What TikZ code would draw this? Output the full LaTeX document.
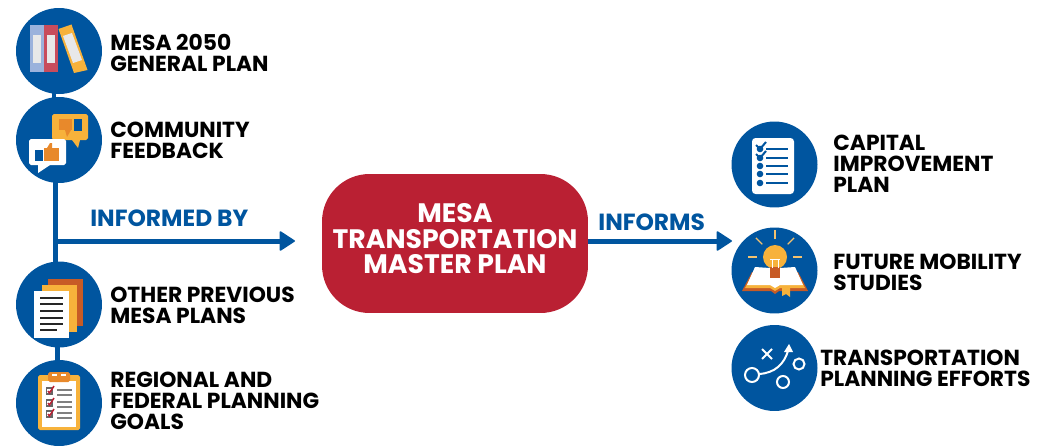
\documentclass[tikz,border=0pt]{standalone}
\usepackage{fontspec}
\setmainfont{Poppins}[BoldFont=Poppins Bold]
\usetikzlibrary{arrows.meta}
\definecolor{mesablue}{HTML}{00559F}
\definecolor{mesared}{HTML}{BA2033}
\definecolor{bookorange}{HTML}{F7B23B}
\definecolor{thumb}{HTML}{E8892B}
\definecolor{rust}{HTML}{C75B26}
\definecolor{paper}{HTML}{E8E8E8}
\tikzset{
  disc/.style={circle,fill=mesablue,minimum size=1.72cm,inner sep=0pt},
  link/.style={mesablue,line width=0.9mm},
  pointer/.style={mesablue,line width=1mm,-{Triangle[round,length=3.2mm,width=4.1mm,line width=0.3mm]}},
  label/.style={anchor=west,align=left,font=\bfseries\fontsize{12.4}{11.95}\selectfont,text=black,inner sep=0pt},
  heading/.style={anchor=west,font=\bfseries\fontsize{13.3}{14}\selectfont,text=mesablue,inner sep=0pt}
}
\begin{document}
\begin{tikzpicture}[x=0.02cm,y=-0.02cm]
  \useasboundingbox (0,0) rectangle (1043,446);
  % left column
  \node[disc] (generalplan) at (59,51) {};
  \node[disc] (feedback) at (59,140) {};
  \node[disc] (previous) at (59,304.5) {};
  \node[disc] (goals) at (59,403) {};
  \draw[link] ([xshift=-0.1cm,yshift=0.05cm]generalplan.south) -- ([xshift=-0.1cm,yshift=-0.05cm]feedback.north);
  \draw[link] ([xshift=-0.07cm,yshift=0.05cm]feedback.south) -- ([xshift=-0.07cm,yshift=-0.05cm]previous.north);
  \draw[link] ([xshift=-0.03cm,yshift=0.05cm]previous.south) -- ([xshift=-0.03cm,yshift=-0.05cm]goals.north);
  % right column
  \node[disc] (capital) at (774.5,164.5) {};
  \node[disc] (mobility) at (774.5,270.5) {};
  \node[disc] (efforts) at (774.5,368) {};
  % centre
  \node[fill=mesared,rounded corners=0.95cm,minimum width=5.32cm,minimum height=2.78cm] (master) at (455,243.5) {};
  \node[align=center,text=white,font=\bfseries\fontsize{15.2}{14.5}\selectfont,inner sep=0pt] (mastertext) at (455,239) {MESA\\TRANSPORTATION\\MASTER PLAN};
  \coordinate (junction) at (55,241);
  \coordinate (leftend) at (295,241);
  \coordinate (rightend) at (732,241);
  \draw[pointer] (junction) -- (leftend);
  \draw[pointer] (master.east |- rightend) -- (rightend);
  \node[heading] (informedby) at (90,218) {INFORMED BY};
  \node[heading] (informs) at (598,222) {INFORMS};
  % texts
  \node[label] (t1) at (110,53) {MESA 2050\\GENERAL PLAN};
  \node[label] (t2) at (110,140.5) {COMMUNITY\\FEEDBACK};
  \node[label] (t3) at (110,305.5) {OTHER PREVIOUS\\MESA PLANS};
  \node[label] (t4) at (110,400.5) {REGIONAL AND\\FEDERAL PLANNING\\GOALS};
  \node[label] (t5) at (833,164) {CAPITAL\\IMPROVEMENT\\PLAN};
  \node[label] (t6) at (833,272) {FUTURE MOBILITY\\STUDIES};
  \node[label] (t7) at (820,368) {TRANSPORTATION\\PLANNING EFFORTS};
  % binders
  \fill[blue!20!paper!60!mesablue!70!white] (30,25) rectangle (44,72);
  \fill[mesared!80!white] (44,25) rectangle (58,72);
  \fill[paper] (33,35) rectangle (41,63);
  \fill[paper] (47,35) rectangle (55,63);
  \fill[bookorange] (58.5,29) -- (71.5,24.5) -- (87.5,70) -- (74,73) -- cycle;
  \fill[paper] (63,36) -- (72,33) -- (82,60) -- (73,63) -- cycle;
  % speech bubbles
  \fill[bookorange,rounded corners=1pt] (52,114) rectangle (88,140);
  \fill[bookorange] (72,140) -- (80,140) -- (78,148) -- cycle;
  \fill[thumb] (59,119) rectangle (72,130);
  \fill[thumb] (65,130) -- (71,130) -- (67,137) -- cycle;
  \fill[mesablue] (74,119) rectangle (82,131);
  \fill[white,rounded corners=1pt] (29,139) rectangle (66,165);
  \fill[white] (38,165) -- (50,165) -- (38,173) -- cycle;
  \fill[mesablue] (35,150) rectangle (43,161);
  \fill[thumb] (44,148) rectangle (59,161);
  \fill[thumb] (47,148) -- (50,143) -- (52,143) -- (52,148) -- cycle;
  % stacked pages
  \fill[rust] (48,279) rectangle (83,326);
  \fill[bookorange] (42,285) rectangle (77,332);
  \fill[white] (34,291) rectangle (69,338);
  \foreach \y in {298,304,311,318,324}
    \draw[black!85,line width=0.3mm] (40,\y) -- (63,\y);
  \draw[black!85,line width=0.3mm] (40,330) -- (57,330);
  % clipboard
  \fill[bookorange,rounded corners=1pt] (38,375) rectangle (80,430);
  \fill[white] (42,381) rectangle (76,427);
  \fill[thumb,rounded corners=1pt] (48,372) rectangle (70,382);
  \fill[white] (52,374) rectangle (57,376);
  \fill[white] (61,374) rectangle (66,376);
  \foreach \y in {391,403,414}{
    \draw[black!60,line width=0.3mm] (46.5,\y-3) rectangle (52,\y+3);
    \draw[mesared,line width=0.3mm] (48,\y) -- (49.5,\y+2) -- (54,\y-5);
    \draw[black!50,line width=0.4mm] (57,\y-1) -- (72,\y-1);
    \draw[black!50,line width=0.4mm] (57,\y+4) -- (72,\y+4);
  }
  % checklist
  \fill[white,rounded corners=2pt] (752,138) rectangle (794,194);
  \foreach \y in {149,158,166,174,183}{
    \fill[mesablue] (760,\y) circle [radius=3.3];
    \draw[mesablue,line width=0.3mm] (766,\y) -- (788,\y);
  }
  \draw[mesablue,line width=0.4mm] (756,145) -- (760,149) -- (766,142);
  \draw[mesablue,line width=0.4mm] (756,154) -- (760,158) -- (766,151);
  % open book and bulb
  \fill[rust] (742,291) -- (752,272) -- (798,272) -- (808,291) -- (779,291) -- (775,294) -- (771,291) -- cycle;
  \fill[bookorange] (745,288) -- (755,269) -- (795,269) -- (805,288) -- (780,288) -- (775,291) -- (770,288) -- cycle;
  \fill[white] (747,285) -- (755,267) -- (770,268) -- (775,273) -- (780,268) -- (795,267) -- (803,285) -- (780,285) -- (775,288) -- (770,285) -- cycle;
  \fill[bookorange] (782,287) -- (790,287) -- (790,297) -- (786,294) -- (782,296) -- cycle;
  \fill[bookorange] (775,257) circle [radius=12];
  \fill[rust] (770,267) rectangle (780,278);
  \draw[white,line width=0.2mm] (772,268) -- (772,260) (778,268) -- (778,260) (770,259) -- (780,259);
  \foreach \a in {0,45,90,135,180}{
    \draw[bookorange!70!paper,line width=0.25mm] (775,257) ++ (-\a:18) -- ++ (-\a:9);
  }
  % playbook
  \draw[white,line width=0.4mm] (752,375) circle [radius=7];
  \draw[white,line width=0.4mm] (799,364) circle [radius=5.5];
  \draw[white,line width=0.4mm] (783,382) circle [radius=6];
  \draw[white,line width=0.4mm] (759,374) .. controls (775,373) and (784,364) .. (788,351);
  \fill[white] (784,352) -- (789,344) -- (793,352) -- cycle;
  \draw[white,line width=0.4mm] (762,349) -- (772,359) (772,349) -- (762,359);
\end{tikzpicture}
\end{document}
